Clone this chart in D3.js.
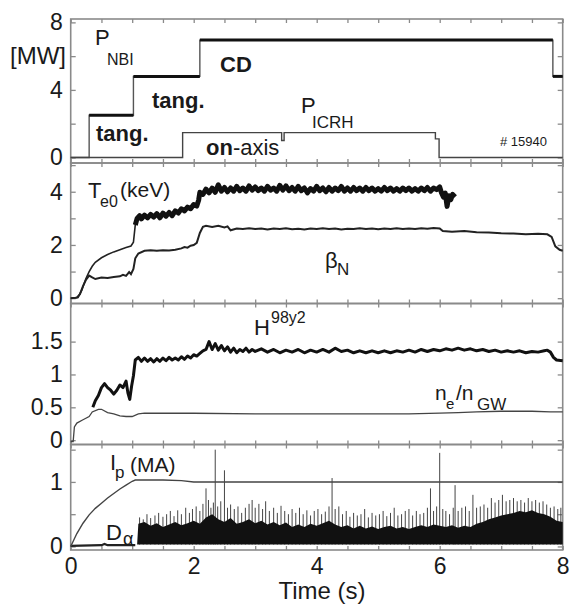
<!DOCTYPE html>
<html>
<head>
<meta charset="utf-8">
<script src="https://cdn.jsdelivr.net/npm/d3@7"></script>
<style>
  body { margin: 0; background: #fff; }
  svg { display: block; }
  text { font-family: "Liberation Sans", Arial, Helvetica, sans-serif; fill: #1a1a1a; }
</style>
</head>
<body>
<svg id="chart" width="574" height="604"></svg>
<script>
// ---- shot #15940 time traces, [time (s), value] ----
const pNBI = [[0, 0], [0.3, 2.5], [1.02, 4.8], [2.1, 6.95], [7.84, 4.8], [8, 4.8]];
const pICRH = [[0, 0], [1.82, 1.47], [3.43, 1.0], [3.47, 1.47], [5.93, 1.1], [5.99, 0], [8, 0]];

const te0 = [
  [0, 0], [0.12, 0.03], [0.18, 0.3], [0.25, 0.75], [0.3, 1.0], [0.35, 1.2], [0.4, 1.35],
  [0.5, 1.52], [0.6, 1.64], [0.7, 1.74], [0.8, 1.82], [0.9, 1.9], [0.98, 1.96], [1.02, 2.1],
  [1.05, 2.75], [1.08, 3.0], [1.12, 3.1], [1.15, 2.98], [1.2, 3.12], [1.25, 3.02], [1.3, 3.15],
  [1.35, 3.05], [1.4, 3.18], [1.45, 3.02], [1.5, 3.2], [1.55, 3.08], [1.6, 3.22], [1.65, 3.1],
  [1.7, 3.28], [1.75, 3.2], [1.8, 3.36], [1.85, 3.28], [1.9, 3.42], [1.95, 3.36], [2.0, 3.52],
  [2.05, 3.46], [2.08, 3.68], [2.1, 3.98], [2.15, 3.9], [2.2, 4.1], [2.25, 3.96], [2.3, 4.14],
  [2.35, 3.98], [2.4, 4.26], [2.45, 4.02], [2.5, 4.16], [2.55, 4.0], [2.6, 4.14], [2.65, 4.02],
  [2.7, 4.2], [2.75, 4.04], [2.8, 4.14], [2.85, 4.02], [2.9, 4.22], [2.95, 4.06], [3.0, 4.18],
  [3.05, 4.04], [3.1, 4.14], [3.15, 4.02], [3.2, 4.2], [3.25, 4.06], [3.3, 4.14], [3.35, 4.02],
  [3.4, 4.24], [3.45, 4.06], [3.5, 4.22], [3.55, 4.04], [3.6, 4.16], [3.65, 4.02], [3.7, 4.2],
  [3.75, 4.04], [3.8, 4.14], [3.85, 3.96], [3.9, 4.12], [3.95, 4.02], [4.0, 4.2], [4.05, 4.04],
  [4.1, 4.14], [4.15, 4.0], [4.2, 4.16], [4.25, 4.02], [4.3, 4.14], [4.35, 4.04], [4.4, 4.2],
  [4.45, 4.02], [4.5, 4.14], [4.55, 4.02], [4.6, 4.16], [4.65, 4.04], [4.7, 4.14], [4.75, 4.02],
  [4.8, 4.16], [4.85, 4.04], [4.9, 4.14], [4.95, 4.02], [5.0, 4.12], [5.05, 4.02], [5.1, 4.16],
  [5.15, 4.04], [5.2, 4.14], [5.25, 4.02], [5.3, 4.12], [5.35, 4.02], [5.4, 4.14], [5.45, 4.04],
  [5.5, 4.14], [5.55, 4.02], [5.6, 4.12], [5.65, 4.02], [5.7, 4.14], [5.75, 4.04], [5.8, 4.16],
  [5.85, 4.02], [5.9, 4.14], [5.95, 4.08], [6.0, 4.18], [6.03, 3.95], [6.06, 3.8], [6.09, 3.95],
  [6.12, 3.45], [6.15, 3.85], [6.18, 3.7], [6.21, 3.9], [6.25, 3.8]
];

const betaN = [
  [0, 0], [0.1, 0.02], [0.15, 0.15], [0.2, 0.45], [0.25, 0.7], [0.3, 0.85], [0.35, 0.78],
  [0.4, 0.72], [0.5, 0.78], [0.6, 0.76], [0.7, 0.8], [0.8, 0.82], [0.85, 0.88], [0.9, 0.84],
  [0.95, 0.98], [0.98, 0.9], [1.02, 1.1], [1.05, 1.5], [1.1, 1.68], [1.2, 1.78], [1.3, 1.8],
  [1.4, 1.78], [1.5, 1.8], [1.6, 1.79], [1.7, 1.82], [1.8, 1.87], [1.85, 1.92], [1.9, 1.9],
  [1.95, 1.97], [2.0, 2.0], [2.05, 2.08], [2.1, 2.45], [2.15, 2.68], [2.2, 2.72], [2.3, 2.68],
  [2.4, 2.72], [2.5, 2.66], [2.55, 2.7], [2.6, 2.55], [2.7, 2.62], [2.8, 2.6], [2.9, 2.63],
  [3.0, 2.6], [3.1, 2.62], [3.2, 2.58], [3.3, 2.62], [3.4, 2.6], [3.5, 2.63], [3.6, 2.59],
  [3.7, 2.61], [3.8, 2.58], [3.9, 2.62], [4.0, 2.6], [4.1, 2.63], [4.2, 2.6], [4.3, 2.62],
  [4.4, 2.58], [4.5, 2.61], [4.6, 2.6], [4.7, 2.63], [4.8, 2.6], [4.9, 2.62], [5.0, 2.59],
  [5.1, 2.62], [5.2, 2.6], [5.3, 2.63], [5.4, 2.6], [5.5, 2.62], [5.6, 2.6], [5.7, 2.63],
  [5.8, 2.61], [5.9, 2.64], [6.0, 2.62], [6.05, 2.52], [6.2, 2.5], [6.4, 2.52], [6.6, 2.48],
  [6.8, 2.47], [7.0, 2.44], [7.2, 2.43], [7.4, 2.4], [7.6, 2.42], [7.75, 2.4], [7.82, 2.3],
  [7.88, 1.95], [7.95, 1.82], [8.0, 1.78]
];

const h98 = [
  [0.36, 0.5], [0.4, 0.6], [0.45, 0.68], [0.5, 0.8], [0.55, 0.86], [0.6, 0.8], [0.65, 0.76],
  [0.7, 0.7], [0.75, 0.76], [0.8, 0.84], [0.85, 0.8], [0.9, 0.9], [0.93, 0.72], [0.96, 0.62],
  [0.99, 0.82], [1.02, 0.98], [1.05, 1.22], [1.1, 1.26], [1.15, 1.2], [1.2, 1.25], [1.25, 1.2],
  [1.3, 1.24], [1.35, 1.19], [1.4, 1.24], [1.45, 1.2], [1.5, 1.25], [1.55, 1.21], [1.6, 1.26],
  [1.65, 1.22], [1.7, 1.25], [1.75, 1.22], [1.8, 1.27], [1.85, 1.23], [1.9, 1.28], [1.95, 1.25],
  [2.0, 1.3], [2.05, 1.28], [2.1, 1.32], [2.15, 1.36], [2.2, 1.38], [2.25, 1.5], [2.3, 1.38],
  [2.35, 1.47], [2.4, 1.37], [2.45, 1.44], [2.5, 1.36], [2.55, 1.42], [2.6, 1.34], [2.65, 1.4],
  [2.7, 1.33], [2.75, 1.38], [2.8, 1.35], [2.85, 1.4], [2.9, 1.34], [2.95, 1.38], [3.0, 1.35],
  [3.1, 1.39], [3.2, 1.34], [3.3, 1.38], [3.4, 1.33], [3.5, 1.37], [3.6, 1.34], [3.7, 1.38],
  [3.8, 1.33], [3.9, 1.37], [4.0, 1.34], [4.1, 1.38], [4.2, 1.34], [4.3, 1.4], [4.4, 1.35],
  [4.5, 1.37], [4.6, 1.33], [4.7, 1.36], [4.8, 1.33], [4.9, 1.36], [5.0, 1.33], [5.1, 1.36],
  [5.2, 1.33], [5.3, 1.36], [5.4, 1.34], [5.5, 1.37], [5.6, 1.34], [5.7, 1.38], [5.8, 1.35],
  [5.9, 1.38], [6.0, 1.36], [6.1, 1.39], [6.2, 1.37], [6.3, 1.4], [6.4, 1.37], [6.5, 1.39],
  [6.6, 1.36], [6.7, 1.38], [6.8, 1.35], [6.9, 1.37], [7.0, 1.34], [7.1, 1.36], [7.2, 1.34],
  [7.3, 1.36], [7.4, 1.33], [7.5, 1.35], [7.6, 1.34], [7.7, 1.36], [7.75, 1.37], [7.8, 1.34],
  [7.85, 1.26], [7.9, 1.22], [8.0, 1.21]
];

const neGW = [
  [0, -0.02], [0.04, -0.02], [0.06, 0.2], [0.1, 0.26], [0.2, 0.31], [0.3, 0.36], [0.35, 0.43],
  [0.45, 0.47], [0.5, 0.47], [0.6, 0.42], [0.7, 0.4], [0.8, 0.37], [0.9, 0.36], [1.0, 0.36],
  [1.1, 0.4], [1.2, 0.41], [1.5, 0.41], [2.0, 0.41], [3.0, 0.4], [4.0, 0.4], [5.0, 0.4],
  [5.5, 0.4], [6.0, 0.41], [6.3, 0.42], [6.6, 0.43], [7.0, 0.44], [7.5, 0.44], [7.8, 0.43], [8.0, 0.43]
];

const ip = [
  [0, 0.0], [0.1, 0.2], [0.2, 0.36], [0.3, 0.49], [0.4, 0.59], [0.5, 0.67], [0.6, 0.75],
  [0.7, 0.82], [0.8, 0.89], [0.9, 0.95], [1.0, 1.01], [1.05, 1.03], [1.5, 1.03], [1.8, 1.02],
  [2.0, 1.0], [8.0, 1.0]
];

// D-alpha: quiet level before the L-H transition, dense ELM band top, and individual ELM spikes
const dAlphaPre = [[0, 0.01], [0.5, 0.02], [0.55, 0.04], [0.6, 0.02], [1.05, 0.02]];
const dAlphaFloor = 0.03;
const dAlphaBand = [
  [1.08, 0.03], [1.1, 0.35], [1.2, 0.38], [1.3, 0.32], [1.4, 0.36], [1.5, 0.3], [1.6, 0.34],
  [1.7, 0.38], [1.8, 0.33], [1.9, 0.36], [2.0, 0.4], [2.1, 0.35], [2.2, 0.45], [2.3, 0.5],
  [2.4, 0.42], [2.5, 0.38], [2.6, 0.44], [2.7, 0.35], [2.8, 0.38], [2.9, 0.42], [3.0, 0.36],
  [3.1, 0.4], [3.2, 0.34], [3.3, 0.38], [3.4, 0.33], [3.5, 0.37], [3.6, 0.3], [3.7, 0.34],
  [3.8, 0.3], [3.9, 0.35], [4.0, 0.32], [4.1, 0.36], [4.2, 0.4], [4.3, 0.34], [4.4, 0.3],
  [4.5, 0.33], [4.6, 0.28], [4.7, 0.32], [4.8, 0.28], [4.9, 0.31], [5.0, 0.27], [5.1, 0.3],
  [5.2, 0.32], [5.3, 0.28], [5.4, 0.3], [5.5, 0.27], [5.6, 0.3], [5.7, 0.33], [5.8, 0.3],
  [5.9, 0.34], [6.0, 0.32], [6.1, 0.3], [6.2, 0.33], [6.3, 0.29], [6.4, 0.32], [6.5, 0.3],
  [6.6, 0.35], [6.7, 0.38], [6.8, 0.42], [6.9, 0.45], [7.0, 0.48], [7.1, 0.5], [7.2, 0.52],
  [7.3, 0.55], [7.4, 0.53], [7.5, 0.56], [7.6, 0.52], [7.7, 0.5], [7.8, 0.46], [7.9, 0.4],
  [8.0, 0.38]
];
const dAlphaSpikes = [
  [1.12, 0.45], [1.18, 0.42], [1.24, 0.5], [1.3, 0.44], [1.37, 0.48], [1.43, 0.52], [1.5, 0.46],
  [1.56, 0.5], [1.62, 0.55], [1.68, 0.47], [1.74, 0.56], [1.8, 0.5], [1.87, 0.6], [1.93, 0.52],
  [1.98, 0.58], [2.04, 0.62], [2.1, 0.55], [2.15, 0.66], [2.2, 0.9], [2.24, 0.72], [2.28, 0.6],
  [2.32, 0.68], [2.35, 1.5], [2.39, 0.62], [2.44, 0.7], [2.5, 1.18], [2.55, 0.6], [2.6, 0.65],
  [2.66, 0.58], [2.72, 0.62], [2.78, 0.52], [2.84, 0.6], [2.9, 0.66], [2.95, 0.72], [3.0, 0.6],
  [3.06, 0.66], [3.12, 0.58], [3.17, 0.7], [3.23, 0.55], [3.3, 0.6], [3.36, 0.52], [3.42, 0.63],
  [3.48, 0.55], [3.54, 0.5], [3.6, 0.58], [3.66, 0.52], [3.72, 0.6], [3.78, 0.5], [3.84, 0.56],
  [3.9, 0.48], [3.96, 0.55], [4.02, 0.58], [4.08, 0.5], [4.14, 0.54], [4.2, 0.62], [4.25, 1.06],
  [4.3, 0.58], [4.36, 0.62], [4.42, 0.5], [4.48, 0.55], [4.54, 0.46], [4.6, 0.52], [4.66, 0.48],
  [4.72, 0.5], [4.78, 0.58], [4.84, 0.45], [4.9, 0.52], [4.96, 0.48], [5.02, 0.5], [5.08, 0.55],
  [5.14, 0.47], [5.2, 0.52], [5.26, 0.6], [5.32, 0.48], [5.38, 0.5], [5.44, 0.55], [5.5, 0.58],
  [5.56, 0.48], [5.62, 0.55], [5.68, 0.5], [5.74, 0.52], [5.8, 0.6], [5.85, 0.9], [5.9, 0.55],
  [5.95, 0.62], [6.0, 1.45], [6.05, 0.58], [6.1, 0.55], [6.16, 0.5], [6.22, 0.6], [6.25, 0.95],
  [6.3, 0.55], [6.36, 0.6], [6.42, 0.62], [6.48, 0.55], [6.54, 0.8], [6.6, 0.6], [6.66, 0.62],
  [6.72, 0.65], [6.78, 0.6], [6.84, 0.75], [6.9, 0.68], [6.96, 0.72], [7.02, 0.8], [7.08, 0.7],
  [7.14, 0.72], [7.2, 0.75], [7.26, 0.7], [7.32, 0.72], [7.38, 0.68], [7.44, 0.75], [7.5, 0.7],
  [7.56, 0.72], [7.62, 0.68], [7.68, 0.7], [7.74, 0.65], [7.8, 0.6], [7.86, 0.62], [7.92, 0.58],
  [7.97, 0.6]
];

// ---- axis ticks ----
const timeTicks = [0, 0.5, 1, 1.5, 2, 2.5, 3, 3.5, 4, 4.5, 5, 5.5, 6, 6.5, 7, 7.5, 8];
const timeLabels = [0, 2, 4, 6, 8];
const powerTicks = [0, 2, 4, 6, 8], powerLabels = [0, 4, 8];
const tempTicks = [0, 1, 2, 3, 4, 5], tempLabels = [0, 2, 4];
const confTicks = [0, 0.5, 1, 1.5], confLabels = [0, 0.5, 1, 1.5];
const currTicks = [0, 0.5, 1, 1.5], currLabels = [0, 1];

// ---- layout ----
const svg = d3.select("#chart");
const x = d3.scaleLinear().domain([0, 8]).range([70.7, 562.7]);
const frameColor = "#8a8a8a";
const axisFont = 23;

const panels = [
  { top: 19, bottom: 163, domain: [-0.33, 8.2], ticks: powerTicks, labels: powerLabels },
  { top: 163, bottom: 303.5, domain: [-0.2, 5.08], ticks: tempTicks, labels: tempLabels },
  { top: 303.5, bottom: 444.5, domain: [-0.066, 2.08], ticks: confTicks, labels: confLabels },
  { top: 444.5, bottom: 550, domain: [-0.055, 1.58], ticks: currTicks, labels: currLabels }
];

panels.forEach((p, i) => {
  p.y = d3.scaleLinear().domain(p.domain).range([p.bottom, p.top]);
  const g = svg.append("g");

  // inward ticks on all four sides
  g.append("g").attr("transform", `translate(${x.range()[0]},0)`)
    .call(d3.axisLeft(p.y).tickValues(p.ticks).tickSize(-5).tickPadding(8)
      .tickFormat(d => p.labels.includes(d) ? String(d) : ""));
  g.append("g").attr("transform", `translate(${x.range()[1]},0)`)
    .call(d3.axisRight(p.y).tickValues(p.ticks).tickSize(-5).tickFormat(""));
  g.append("g").attr("transform", `translate(0,${p.top})`)
    .call(d3.axisTop(x).tickValues(timeTicks).tickSize(-4).tickFormat(""));
  g.append("g").attr("transform", `translate(0,${p.bottom})`)
    .call(d3.axisBottom(x).tickValues(timeTicks).tickSize(-4).tickPadding(8)
      .tickFormat(d => (i === panels.length - 1 && timeLabels.includes(d)) ? String(d) : ""));

  g.selectAll(".domain").remove();
  g.selectAll(".tick line").attr("stroke", frameColor).attr("stroke-width", 1.3);
  g.selectAll(".tick text").attr("font-size", axisFont).attr("fill", "#1a1a1a")
    .attr("font-family", '"Liberation Sans", Arial, sans-serif');

  g.append("rect")
    .attr("x", x.range()[0]).attr("y", p.top)
    .attr("width", x.range()[1] - x.range()[0]).attr("height", p.bottom - p.top)
    .attr("fill", "none").attr("stroke", frameColor).attr("stroke-width", 1.6);
});

const [P1, P2, P3, P4] = panels;
const lineFor = (p, curve) => d3.line().x(d => x(d[0])).y(d => p.y(d[1])).curve(curve || d3.curveLinear);

// ---- panel 1: heating power ----
svg.append("path").datum(pNBI).attr("d", lineFor(P1, d3.curveStepAfter))
  .attr("fill", "none").attr("stroke", "#555").attr("stroke-width", 1.4);
// the plateaus of the beam steps are drawn heavier
svg.append("g").selectAll("line").data(pNBI.slice(1, -1).map((d, k) => [d, pNBI[k + 2]]))
  .join("line")
  .attr("x1", d => x(d[0][0])).attr("x2", d => x(d[1][0]))
  .attr("y1", d => P1.y(d[0][1])).attr("y2", d => P1.y(d[0][1]))
  .attr("stroke", "#111").attr("stroke-width", 3);
svg.append("path").datum(pICRH).attr("d", lineFor(P1, d3.curveStepAfter))
  .attr("fill", "none").attr("stroke", "#444").attr("stroke-width", 1.4);

// ---- panel 2: central electron temperature and normalised beta ----
svg.append("path").datum(betaN).attr("d", lineFor(P2))
  .attr("fill", "none").attr("stroke", "#222").attr("stroke-width", 2);
// ramp-up part of Te0 is a thin trace, the noisy flat-top a heavy band
svg.append("path").datum(te0.filter(d => d[0] <= 1.08)).attr("d", lineFor(P2))
  .attr("fill", "none").attr("stroke", "#222").attr("stroke-width", 1.6);
svg.append("path").datum(te0.filter(d => d[0] >= 1.05)).attr("d", lineFor(P2))
  .attr("fill", "none").attr("stroke", "#111").attr("stroke-width", 5).attr("stroke-linejoin", "round");

// ---- panel 3: confinement factor and Greenwald fraction ----
svg.append("path").datum(neGW).attr("d", lineFor(P3))
  .attr("fill", "none").attr("stroke", "#444").attr("stroke-width", 1.3);
svg.append("path").datum(h98).attr("d", lineFor(P3))
  .attr("fill", "none").attr("stroke", "#111").attr("stroke-width", 3).attr("stroke-linejoin", "round");

// ---- panel 4: plasma current and D-alpha ----
svg.append("path").datum(dAlphaPre).attr("d", lineFor(P4))
  .attr("fill", "none").attr("stroke", "#222").attr("stroke-width", 2.2);
svg.append("g").selectAll("line").data(dAlphaSpikes).join("line")
  .attr("x1", d => x(d[0])).attr("x2", d => x(d[0]))
  .attr("y1", P4.y(dAlphaFloor)).attr("y2", d => P4.y(d[1]))
  .attr("stroke", "#444").attr("stroke-width", 1);
svg.append("path").datum(dAlphaBand)
  .attr("d", d3.area().x(d => x(d[0])).y0(P4.y(dAlphaFloor)).y1(d => P4.y(d[1])))
  .attr("fill", "#111");
svg.append("path").datum(ip).attr("d", lineFor(P4))
  .attr("fill", "none").attr("stroke", "#444").attr("stroke-width", 1.4);

// ---- annotations ----
function put(str, px, py, size, opts = {}) {
  return svg.append("text").attr("x", px).attr("y", py).attr("font-size", size)
    .attr("font-weight", opts.bold ? "bold" : "normal")
    .attr("text-anchor", opts.anchor || "start")
    .attr("fill", opts.fill || "#1a1a1a").text(str);
}
put("[MW]", 66, 64, 24, { anchor: "end" });
put("P", 95, 45, 22); put("NBI", 107, 65, 16);
put("CD", 220, 72, 22, { bold: true });
put("tang.", 152, 108, 22, { bold: true });
put("tang.", 96, 141, 22, { bold: true });
put("P", 301, 113, 22); put("ICRH", 312, 128, 17);
const oa = svg.append("text").attr("x", 206).attr("y", 155).attr("font-size", 22);
oa.append("tspan").attr("font-weight", "bold").text("on");
oa.append("tspan").text("-axis");
put("# 15940", 500, 146, 13, { fill: "#333" });

put("T", 88, 198, 22); put("e0", 100, 207, 16); put("(keV)", 120, 197, 21);
put("\u03b2", 325, 268, 22); put("N", 337, 275, 17);

put("H", 254, 335, 22); put("98y2", 271, 323, 16);
put("n", 435, 400, 21); put("e", 446, 409, 15); put("/n", 456, 400, 21); put("GW", 477, 410, 17);

put("I", 110, 470, 22); put("p", 115, 478, 17); put("(MA)", 130, 472, 21);
put("D", 106, 540, 22); put("\u03b1", 123, 545, 18);

put("Time (s)", 322, 599, 24, { anchor: "middle" });
</script>
</body>
</html>
